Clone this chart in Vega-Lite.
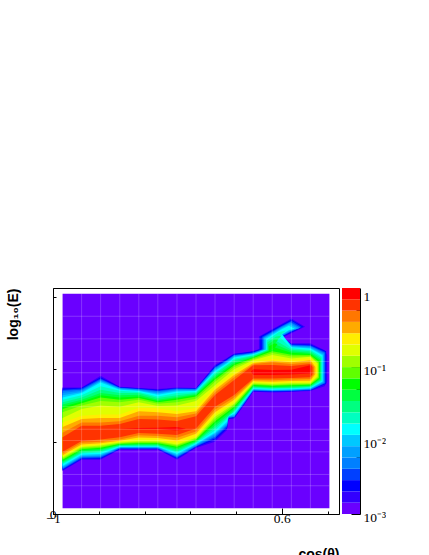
{"$schema":"https://vega.github.io/schema/vega-lite/v6.json","background":"white","padding":{"left":5,"top":287,"right":0,"bottom":0},"spacing":2,"config":{"view":{"stroke":"black","strokeWidth":1},"concat":{"spacing":2}},"datasets":{"contours":[
{"l":0,"x":-0.933,"lo":0.25,"hi":9.75},{"l":0,"x":0.933,"lo":0.25,"hi":9.75},
{"l":1,"x":-0.933,"lo":1.9,"hi":5.6},{"l":1,"x":-0.8,"lo":2.4,"hi":5.6},{"l":1,"x":-0.667,"lo":2.4,"hi":6.12},{"l":1,"x":-0.533,"lo":2.85,"hi":5.63},{"l":1,"x":-0.4,"lo":2.85,"hi":5.58},{"l":1,"x":-0.267,"lo":2.85,"hi":5.53},{"l":1,"x":-0.133,"lo":2.4,"hi":5.6},{"l":1,"x":0,"lo":2.92,"hi":5.58},{"l":1,"x":0.133,"lo":3.2,"hi":6.6},{"l":1,"x":0.217,"lo":3.72,"hi":6.9},{"l":1,"x":0.227,"lo":4.2,"hi":6.95},{"l":1,"x":0.267,"lo":4.22,"hi":7.1},{"l":1,"x":0.335,"lo":4.8,"hi":7.15},{"l":1,"x":0.4,"lo":5.41,"hi":7.21},{"l":1,"x":0.533,"lo":5.38,"hi":7.5},{"l":1,"x":0.595,"lo":5.39,"hi":7.79},{"l":1,"x":0.667,"lo":5.41,"hi":7.55},{"l":1,"x":0.8,"lo":5.44,"hi":7.55},{"l":1,"x":0.9,"lo":5.65,"hi":7.25},{"l":1,"x":0.917,"lo":5.85,"hi":7.04},
{"l":1,"s":1,"x":0.44,"lo":7.2,"hi":7.85},{"l":1,"s":1,"x":0.595,"lo":7.77,"hi":8.4},{"l":1,"s":1,"x":0.667,"lo":8.0,"hi":8.65},{"l":1,"s":1,"x":0.763,"lo":8.29,"hi":8.29},
{"l":2,"x":-0.933,"lo":1.94,"hi":5.55},{"l":2,"x":-0.8,"lo":2.43,"hi":5.58},{"l":2,"x":-0.667,"lo":2.44,"hi":6.05},{"l":2,"x":-0.533,"lo":2.87,"hi":5.62},{"l":2,"x":-0.4,"lo":2.87,"hi":5.56},{"l":2,"x":-0.267,"lo":2.87,"hi":5.5},{"l":2,"x":-0.133,"lo":2.44,"hi":5.58},{"l":2,"x":0,"lo":2.95,"hi":5.56},{"l":2,"x":0.133,"lo":3.28,"hi":6.55},{"l":2,"x":0.217,"lo":3.78,"hi":6.87},{"l":2,"x":0.227,"lo":4.22,"hi":6.92},{"l":2,"x":0.267,"lo":4.25,"hi":7.08},{"l":2,"x":0.335,"lo":4.83,"hi":7.13},{"l":2,"x":0.4,"lo":5.43,"hi":7.19},{"l":2,"x":0.533,"lo":5.4,"hi":7.48},{"l":2,"x":0.6,"lo":5.41,"hi":7.84},{"l":2,"x":0.667,"lo":5.42,"hi":7.52},{"l":2,"x":0.8,"lo":5.46,"hi":7.5},{"l":2,"x":0.91,"lo":5.76,"hi":7.2},
{"l":2,"s":1,"x":0.45,"lo":7.2,"hi":7.85},{"l":2,"s":1,"x":0.6,"lo":7.82,"hi":8.37},{"l":2,"s":1,"x":0.667,"lo":8.03,"hi":8.6},{"l":2,"s":1,"x":0.75,"lo":8.28,"hi":8.28},
{"l":3,"x":-0.933,"lo":1.97,"hi":5.5},{"l":3,"x":-0.8,"lo":2.46,"hi":5.55},{"l":3,"x":-0.667,"lo":2.48,"hi":6.0},{"l":3,"x":-0.533,"lo":2.89,"hi":5.6},{"l":3,"x":-0.4,"lo":2.89,"hi":5.54},{"l":3,"x":-0.267,"lo":2.89,"hi":5.47},{"l":3,"x":-0.133,"lo":2.48,"hi":5.56},{"l":3,"x":0,"lo":2.98,"hi":5.54},{"l":3,"x":0.133,"lo":3.35,"hi":6.5},{"l":3,"x":0.217,"lo":3.84,"hi":6.83},{"l":3,"x":0.227,"lo":4.24,"hi":6.88},{"l":3,"x":0.267,"lo":4.28,"hi":7.05},{"l":3,"x":0.335,"lo":4.86,"hi":7.1},{"l":3,"x":0.4,"lo":5.45,"hi":7.16},{"l":3,"x":0.533,"lo":5.42,"hi":7.45},{"l":3,"x":0.6,"lo":5.43,"hi":7.87},{"l":3,"x":0.667,"lo":5.44,"hi":7.5},{"l":3,"x":0.8,"lo":5.48,"hi":7.47},{"l":3,"x":0.905,"lo":5.78,"hi":7.17},
{"l":3,"s":1,"x":0.46,"lo":7.2,"hi":7.83},{"l":3,"s":1,"x":0.6,"lo":7.85,"hi":8.33},{"l":3,"s":1,"x":0.667,"lo":8.06,"hi":8.55},{"l":3,"s":1,"x":0.74,"lo":8.27,"hi":8.27},
{"l":4,"x":-0.933,"lo":2.0,"hi":5.45},{"l":4,"x":-0.8,"lo":2.5,"hi":5.5},{"l":4,"x":-0.667,"lo":2.52,"hi":5.95},{"l":4,"x":-0.533,"lo":2.91,"hi":5.58},{"l":4,"x":-0.4,"lo":2.91,"hi":5.52},{"l":4,"x":-0.267,"lo":2.91,"hi":5.43},{"l":4,"x":-0.133,"lo":2.52,"hi":5.53},{"l":4,"x":0,"lo":3.0,"hi":5.52},{"l":4,"x":0.133,"lo":3.42,"hi":6.47},{"l":4,"x":0.217,"lo":3.9,"hi":6.8},{"l":4,"x":0.227,"lo":4.26,"hi":6.85},{"l":4,"x":0.267,"lo":4.3,"hi":7.02},{"l":4,"x":0.335,"lo":4.89,"hi":7.07},{"l":4,"x":0.4,"lo":5.47,"hi":7.13},{"l":4,"x":0.533,"lo":5.44,"hi":7.43},{"l":4,"x":0.6,"lo":5.45,"hi":7.89},{"l":4,"x":0.667,"lo":5.46,"hi":7.47},{"l":4,"x":0.8,"lo":5.5,"hi":7.43},{"l":4,"x":0.9,"lo":5.8,"hi":7.13},
{"l":4,"s":1,"x":0.47,"lo":7.2,"hi":7.82},{"l":4,"s":1,"x":0.6,"lo":7.87,"hi":8.3},{"l":4,"s":1,"x":0.66,"lo":8.08,"hi":8.5},{"l":4,"s":1,"x":0.73,"lo":8.25,"hi":8.25},
{"l":5,"x":-0.933,"lo":2.04,"hi":5.35},{"l":5,"x":-0.8,"lo":2.53,"hi":5.45},{"l":5,"x":-0.667,"lo":2.57,"hi":5.9},{"l":5,"x":-0.533,"lo":2.93,"hi":5.56},{"l":5,"x":-0.4,"lo":2.93,"hi":5.5},{"l":5,"x":-0.267,"lo":2.93,"hi":5.38},{"l":5,"x":-0.133,"lo":2.56,"hi":5.5},{"l":5,"x":0,"lo":3.03,"hi":5.5},{"l":5,"x":0.133,"lo":3.5,"hi":6.43},{"l":5,"x":0.217,"lo":3.95,"hi":6.77},{"l":5,"x":0.227,"lo":4.28,"hi":6.82},{"l":5,"x":0.267,"lo":4.33,"hi":7.0},{"l":5,"x":0.335,"lo":4.92,"hi":7.05},{"l":5,"x":0.4,"lo":5.49,"hi":7.11},{"l":5,"x":0.533,"lo":5.46,"hi":7.42},{"l":5,"x":0.6,"lo":5.47,"hi":7.92},{"l":5,"x":0.667,"lo":5.48,"hi":7.45},{"l":5,"x":0.8,"lo":5.52,"hi":7.4},{"l":5,"x":0.895,"lo":5.82,"hi":7.1},
{"l":5,"s":1,"x":0.475,"lo":7.2,"hi":7.8},{"l":5,"s":1,"x":0.6,"lo":7.9,"hi":8.26},{"l":5,"s":1,"x":0.66,"lo":8.1,"hi":8.45},{"l":5,"s":1,"x":0.72,"lo":8.22,"hi":8.22},
{"l":6,"x":-0.933,"lo":2.08,"hi":5.25},{"l":6,"x":-0.8,"lo":2.57,"hi":5.4},{"l":6,"x":-0.667,"lo":2.6,"hi":5.87},{"l":6,"x":-0.533,"lo":2.95,"hi":5.53},{"l":6,"x":-0.4,"lo":2.95,"hi":5.47},{"l":6,"x":-0.267,"lo":2.95,"hi":5.33},{"l":6,"x":-0.133,"lo":2.6,"hi":5.46},{"l":6,"x":0,"lo":3.06,"hi":5.47},{"l":6,"x":0.133,"lo":3.55,"hi":6.38},{"l":6,"x":0.217,"lo":4.0,"hi":6.72},{"l":6,"x":0.227,"lo":4.3,"hi":6.77},{"l":6,"x":0.267,"lo":4.37,"hi":6.97},{"l":6,"x":0.335,"lo":4.95,"hi":7.03},{"l":6,"x":0.4,"lo":5.51,"hi":7.09},{"l":6,"x":0.533,"lo":5.48,"hi":7.4},{"l":6,"x":0.6,"lo":5.49,"hi":7.95},{"l":6,"x":0.667,"lo":5.5,"hi":7.42},{"l":6,"x":0.8,"lo":5.54,"hi":7.36},{"l":6,"x":0.89,"lo":5.84,"hi":7.06},
{"l":6,"s":1,"x":0.48,"lo":7.2,"hi":7.78},{"l":6,"s":1,"x":0.6,"lo":7.93,"hi":8.22},{"l":6,"s":1,"x":0.655,"lo":8.12,"hi":8.4},{"l":6,"s":1,"x":0.705,"lo":8.22,"hi":8.22},
{"l":7,"x":-0.933,"lo":2.12,"hi":5.15},{"l":7,"x":-0.8,"lo":2.62,"hi":5.35},{"l":7,"x":-0.667,"lo":2.65,"hi":5.82},{"l":7,"x":-0.533,"lo":2.97,"hi":5.5},{"l":7,"x":-0.4,"lo":2.98,"hi":5.44},{"l":7,"x":-0.267,"lo":2.98,"hi":5.28},{"l":7,"x":-0.133,"lo":2.65,"hi":5.42},{"l":7,"x":0,"lo":3.1,"hi":5.44},{"l":7,"x":0.133,"lo":3.6,"hi":6.33},{"l":7,"x":0.217,"lo":4.08,"hi":6.67},{"l":7,"x":0.227,"lo":4.33,"hi":6.72},{"l":7,"x":0.267,"lo":4.42,"hi":6.93},{"l":7,"x":0.335,"lo":4.98,"hi":7.0},{"l":7,"x":0.4,"lo":5.53,"hi":7.07},{"l":7,"x":0.533,"lo":5.5,"hi":7.38},{"l":7,"x":0.6,"lo":5.51,"hi":7.97},{"l":7,"x":0.667,"lo":5.52,"hi":7.38},{"l":7,"x":0.8,"lo":5.56,"hi":7.32},{"l":7,"x":0.885,"lo":5.86,"hi":7.02},
{"l":7,"s":1,"x":0.49,"lo":7.2,"hi":7.75},{"l":7,"s":1,"x":0.6,"lo":7.95,"hi":8.18},{"l":7,"s":1,"x":0.65,"lo":8.14,"hi":8.33},{"l":7,"s":1,"x":0.69,"lo":8.2,"hi":8.2},
{"l":8,"x":-0.933,"lo":2.2,"hi":5.05},{"l":8,"x":-0.8,"lo":2.68,"hi":5.25},{"l":8,"x":-0.667,"lo":2.72,"hi":5.65},{"l":8,"x":-0.533,"lo":3.0,"hi":5.45},{"l":8,"x":-0.4,"lo":3.0,"hi":5.4},{"l":8,"x":-0.267,"lo":3.0,"hi":5.2},{"l":8,"x":-0.133,"lo":2.72,"hi":5.35},{"l":8,"x":0,"lo":3.13,"hi":5.4},{"l":8,"x":0.133,"lo":3.7,"hi":6.25},{"l":8,"x":0.217,"lo":4.2,"hi":6.61},{"l":8,"x":0.227,"lo":4.38,"hi":6.66},{"l":8,"x":0.267,"lo":4.5,"hi":6.87},{"l":8,"x":0.335,"lo":5.02,"hi":6.95},{"l":8,"x":0.4,"lo":5.56,"hi":7.03},{"l":8,"x":0.533,"lo":5.53,"hi":7.36},{"l":8,"x":0.58,"lo":5.54,"hi":7.87},{"l":8,"x":0.667,"lo":5.55,"hi":7.33},{"l":8,"x":0.8,"lo":5.6,"hi":7.26},{"l":8,"x":0.88,"lo":5.9,"hi":6.96},
{"l":8,"s":1,"x":0.495,"lo":7.2,"hi":7.68},{"l":8,"s":1,"x":0.58,"lo":7.85,"hi":8.05},{"l":8,"s":1,"x":0.63,"lo":8.12,"hi":8.12},
{"l":9,"x":-0.933,"lo":2.25,"hi":4.95},{"l":9,"x":-0.8,"lo":2.72,"hi":5.15},{"l":9,"x":-0.667,"lo":2.78,"hi":5.5},{"l":9,"x":-0.533,"lo":3.02,"hi":5.35},{"l":9,"x":-0.4,"lo":3.03,"hi":5.35},{"l":9,"x":-0.267,"lo":3.03,"hi":5.13},{"l":9,"x":-0.133,"lo":2.78,"hi":5.25},{"l":9,"x":0,"lo":3.17,"hi":5.35},{"l":9,"x":0.133,"lo":3.8,"hi":6.18},{"l":9,"x":0.267,"lo":4.55,"hi":6.8},{"l":9,"x":0.4,"lo":5.6,"hi":7.0},{"l":9,"x":0.533,"lo":5.56,"hi":7.33},{"l":9,"x":0.56,"lo":5.57,"hi":7.67},{"l":9,"x":0.667,"lo":5.58,"hi":7.27},{"l":9,"x":0.8,"lo":5.63,"hi":7.2},{"l":9,"x":0.875,"lo":5.93,"hi":6.9},
{"l":9,"s":1,"x":0.5,"lo":7.2,"hi":7.6},{"l":9,"s":1,"x":0.56,"lo":7.65,"hi":7.85},{"l":9,"s":1,"x":0.6,"lo":7.9,"hi":7.9},
{"l":10,"x":-0.933,"lo":2.3,"hi":4.85},{"l":10,"x":-0.8,"lo":2.78,"hi":5.05},{"l":10,"x":-0.667,"lo":2.83,"hi":5.35},{"l":10,"x":-0.533,"lo":3.05,"hi":5.25},{"l":10,"x":-0.4,"lo":3.06,"hi":5.28},{"l":10,"x":-0.267,"lo":3.06,"hi":5.05},{"l":10,"x":-0.133,"lo":2.85,"hi":5.18},{"l":10,"x":0,"lo":3.2,"hi":5.3},{"l":10,"x":0.133,"lo":3.9,"hi":6.1},{"l":10,"x":0.267,"lo":4.6,"hi":6.72},{"l":10,"x":0.4,"lo":5.63,"hi":6.96},{"l":10,"x":0.533,"lo":5.6,"hi":7.3},{"l":10,"x":0.55,"lo":5.6,"hi":7.52},{"l":10,"x":0.667,"lo":5.62,"hi":7.2},{"l":10,"x":0.8,"lo":5.66,"hi":7.14},{"l":10,"x":0.87,"lo":5.96,"hi":6.84},
{"l":10,"s":1,"x":0.505,"lo":7.2,"hi":7.5},{"l":10,"s":1,"x":0.55,"lo":7.5,"hi":7.72},{"l":10,"s":1,"x":0.575,"lo":7.72,"hi":7.72},
{"l":11,"x":-0.933,"lo":2.35,"hi":4.75},{"l":11,"x":-0.8,"lo":2.83,"hi":4.98},{"l":11,"x":-0.667,"lo":2.88,"hi":5.25},{"l":11,"x":-0.533,"lo":3.08,"hi":5.15},{"l":11,"x":-0.4,"lo":3.1,"hi":5.2},{"l":11,"x":-0.267,"lo":3.1,"hi":5.0},{"l":11,"x":-0.133,"lo":2.92,"hi":5.12},{"l":11,"x":0,"lo":3.24,"hi":5.25},{"l":11,"x":0.133,"lo":4.0,"hi":6.03},{"l":11,"x":0.267,"lo":4.68,"hi":6.65},{"l":11,"x":0.4,"lo":5.67,"hi":6.93},{"l":11,"x":0.533,"lo":5.63,"hi":7.27},{"l":11,"x":0.55,"lo":5.63,"hi":7.37},{"l":11,"x":0.667,"lo":5.66,"hi":7.13},{"l":11,"x":0.8,"lo":5.69,"hi":7.08},{"l":11,"x":0.865,"lo":5.99,"hi":6.78},
{"l":11,"s":1,"x":0.51,"lo":7.2,"hi":7.42},{"l":11,"s":1,"x":0.55,"lo":7.35,"hi":7.55},{"l":11,"s":1,"x":0.57,"lo":7.52,"hi":7.52},
{"l":12,"x":-0.933,"lo":2.4,"hi":4.65},{"l":12,"x":-0.8,"lo":2.87,"hi":4.9},{"l":12,"x":-0.667,"lo":2.93,"hi":5.15},{"l":12,"x":-0.533,"lo":3.1,"hi":5.05},{"l":12,"x":-0.4,"lo":3.13,"hi":5.13},{"l":12,"x":-0.267,"lo":3.13,"hi":4.95},{"l":12,"x":-0.133,"lo":2.98,"hi":5.05},{"l":12,"x":0,"lo":3.28,"hi":5.2},{"l":12,"x":0.133,"lo":4.1,"hi":5.95},{"l":12,"x":0.267,"lo":4.75,"hi":6.58},{"l":12,"x":0.4,"lo":5.71,"hi":6.9},{"l":12,"x":0.533,"lo":5.67,"hi":7.2},{"l":12,"x":0.667,"lo":5.7,"hi":7.05},{"l":12,"x":0.8,"lo":5.72,"hi":7.03},{"l":12,"x":0.86,"lo":6.02,"hi":6.73},
{"l":13,"x":-0.933,"lo":2.45,"hi":4.5},{"l":13,"x":-0.8,"lo":2.92,"hi":4.8},{"l":13,"x":-0.667,"lo":2.98,"hi":5.0},{"l":13,"x":-0.533,"lo":3.13,"hi":4.95},{"l":13,"x":-0.4,"lo":3.17,"hi":5.05},{"l":13,"x":-0.267,"lo":3.17,"hi":4.88},{"l":13,"x":-0.133,"lo":3.03,"hi":4.95},{"l":13,"x":0,"lo":3.32,"hi":5.1},{"l":13,"x":0.133,"lo":4.2,"hi":5.85},{"l":13,"x":0.267,"lo":4.82,"hi":6.5},{"l":13,"x":0.4,"lo":5.75,"hi":6.85},{"l":13,"x":0.533,"lo":5.7,"hi":7.12},{"l":13,"x":0.667,"lo":5.74,"hi":6.97},{"l":13,"x":0.8,"lo":5.75,"hi":6.98},{"l":13,"x":0.855,"lo":6.05,"hi":6.68},
{"l":14,"x":-0.933,"lo":2.5,"hi":4.25},{"l":14,"x":-0.8,"lo":2.96,"hi":4.65},{"l":14,"x":-0.667,"lo":3.03,"hi":4.8},{"l":14,"x":-0.533,"lo":3.16,"hi":4.75},{"l":14,"x":-0.4,"lo":3.22,"hi":4.95},{"l":14,"x":-0.267,"lo":3.22,"hi":4.78},{"l":14,"x":-0.133,"lo":3.08,"hi":4.8},{"l":14,"x":0,"lo":3.37,"hi":5.0},{"l":14,"x":0.133,"lo":4.3,"hi":5.7},{"l":14,"x":0.267,"lo":4.88,"hi":6.4},{"l":14,"x":0.4,"lo":5.79,"hi":6.8},{"l":14,"x":0.533,"lo":5.75,"hi":7.04},{"l":14,"x":0.667,"lo":5.78,"hi":6.88},{"l":14,"x":0.8,"lo":5.78,"hi":6.96},{"l":14,"x":0.85,"lo":6.08,"hi":6.66},
{"l":15,"x":-0.933,"lo":2.55,"hi":4.05},{"l":15,"x":-0.8,"lo":3.0,"hi":4.35},{"l":15,"x":-0.667,"lo":3.08,"hi":4.4},{"l":15,"x":-0.533,"lo":3.2,"hi":4.4},{"l":15,"x":-0.4,"lo":3.3,"hi":4.7},{"l":15,"x":-0.267,"lo":3.28,"hi":4.68},{"l":15,"x":-0.133,"lo":3.15,"hi":4.55},{"l":15,"x":0,"lo":3.42,"hi":4.7},{"l":15,"x":0.133,"lo":4.4,"hi":5.6},{"l":15,"x":0.267,"lo":4.95,"hi":6.25},{"l":15,"x":0.4,"lo":5.84,"hi":6.72},{"l":15,"x":0.533,"lo":5.8,"hi":6.86},{"l":15,"x":0.667,"lo":5.82,"hi":6.8},{"l":15,"x":0.8,"lo":5.83,"hi":6.88},{"l":15,"x":0.845,"lo":6.13,"hi":6.58},
{"l":16,"x":-0.933,"lo":2.6,"hi":3.85},{"l":16,"x":-0.8,"lo":3.08,"hi":4.2},{"l":16,"x":-0.667,"lo":3.13,"hi":4.25},{"l":16,"x":-0.533,"lo":3.24,"hi":4.25},{"l":16,"x":-0.4,"lo":3.38,"hi":4.55},{"l":16,"x":-0.267,"lo":3.36,"hi":4.5},{"l":16,"x":-0.133,"lo":3.25,"hi":4.42},{"l":16,"x":0,"lo":3.55,"hi":4.55},{"l":16,"x":0.133,"lo":4.5,"hi":5.5},{"l":16,"x":0.267,"lo":5.05,"hi":6.15},{"l":16,"x":0.4,"lo":5.88,"hi":6.68},{"l":16,"x":0.533,"lo":5.85,"hi":6.78},{"l":16,"x":0.667,"lo":5.88,"hi":6.72},{"l":16,"x":0.8,"lo":5.9,"hi":6.8},{"l":16,"x":0.835,"lo":6.2,"hi":6.5},
{"l":17,"x":-0.933,"lo":2.68,"hi":3.6},{"l":17,"x":-0.8,"lo":3.15,"hi":4.05},{"l":17,"x":-0.667,"lo":3.2,"hi":4.05},{"l":17,"x":-0.533,"lo":3.3,"hi":4.1},{"l":17,"x":-0.4,"lo":3.48,"hi":4.35},{"l":17,"x":-0.267,"lo":3.45,"hi":4.35},{"l":17,"x":-0.133,"lo":3.37,"hi":4.28},{"l":17,"x":0,"lo":3.65,"hi":4.45},{"l":17,"x":0.133,"lo":4.62,"hi":5.38},{"l":17,"x":0.267,"lo":5.15,"hi":6.05},{"l":17,"x":0.4,"lo":5.94,"hi":6.63},{"l":17,"x":0.533,"lo":5.92,"hi":6.71},{"l":17,"x":0.667,"lo":5.95,"hi":6.64},{"l":17,"x":0.8,"lo":5.97,"hi":6.72},{"l":17,"x":0.825,"lo":6.2,"hi":6.5},
{"l":18,"x":-0.933,"lo":2.75,"hi":3.4},{"l":18,"x":-0.8,"lo":3.23,"hi":3.9},{"l":18,"x":-0.667,"lo":3.3,"hi":3.9},{"l":18,"x":-0.533,"lo":3.4,"hi":3.98},{"l":18,"x":-0.4,"lo":3.58,"hi":4.2},{"l":18,"x":-0.267,"lo":3.55,"hi":4.18},{"l":18,"x":-0.133,"lo":3.5,"hi":4.12},{"l":18,"x":0,"lo":3.78,"hi":4.33},{"l":18,"x":0.133,"lo":4.75,"hi":5.27},{"l":18,"x":0.267,"lo":5.27,"hi":5.93},{"l":18,"x":0.4,"lo":6.0,"hi":6.58},{"l":18,"x":0.533,"lo":6.0,"hi":6.59},{"l":18,"x":0.667,"lo":6.02,"hi":6.55},{"l":18,"x":0.8,"lo":6.05,"hi":6.64},{"l":18,"x":0.815,"lo":6.2,"hi":6.5},
{"l":19,"x":-0.55,"lo":3.78,"hi":3.78},{"l":19,"x":-0.4,"lo":3.76,"hi":3.8},{"l":19,"x":-0.267,"lo":3.76,"hi":3.82},{"l":19,"x":-0.133,"lo":3.7,"hi":3.85},{"l":19,"x":-0.07,"lo":3.77,"hi":3.77},
{"l":19,"s":1,"x":0.385,"lo":6.3,"hi":6.3},{"l":19,"s":1,"x":0.4,"lo":6.15,"hi":6.41},{"l":19,"s":1,"x":0.533,"lo":6.15,"hi":6.37},{"l":19,"s":1,"x":0.667,"lo":6.17,"hi":6.38},{"l":19,"s":1,"x":0.8,"lo":6.22,"hi":6.58},{"l":19,"s":1,"x":0.805,"lo":6.42,"hi":6.42}
],"bands":[{"l":0,"a":0.001,"b":0.001426},{"l":1,"a":0.001426,"b":0.002032},{"l":2,"a":0.002032,"b":0.002897},{"l":3,"a":0.002897,"b":0.00413},{"l":4,"a":0.00413,"b":0.00589},{"l":5,"a":0.00589,"b":0.0084},{"l":6,"a":0.0084,"b":0.01197},{"l":7,"a":0.01197,"b":0.01706},{"l":8,"a":0.01706,"b":0.02432},{"l":9,"a":0.02432,"b":0.03467},{"l":10,"a":0.03467,"b":0.04943},{"l":11,"a":0.04943,"b":0.07047},{"l":12,"a":0.07047,"b":0.10046},{"l":13,"a":0.10046,"b":0.1432},{"l":14,"a":0.1432,"b":0.2042},{"l":15,"a":0.2042,"b":0.2911},{"l":16,"a":0.2911,"b":0.415},{"l":17,"a":0.415,"b":0.5916},{"l":18,"a":0.5916,"b":0.8433},{"l":19,"a":0.8433,"b":1.2023}]},
"hconcat":[{"width":286,"height":226,"layer":[
{"data":{"name":"contours"},"mark":{"type":"area","stroke":null,"line":false,"interpolate":"linear"},"encoding":{"x":{"field":"x","type":"quantitative","scale":{"domain":[-1,1],"nice":false,"zero":false},"axis":{"title":"cos(θ)","titleFont":"Liberation Sans","titleFontSize":14,"titleFontWeight":"bold","titleColor":"black","titleAnchor":"end","titleY":33,"values":[-1,-0.96,-0.92,-0.88,-0.84,-0.8,-0.76,-0.72,-0.68,-0.64,-0.6,-0.56,-0.52,-0.48,-0.44,-0.4,-0.36,-0.32,-0.28,-0.24,-0.2,-0.16,-0.12,-0.08,-0.04,0,0.04,0.08,0.12,0.16,0.2,0.24,0.28,0.32,0.36,0.4,0.44,0.48,0.52,0.56,0.6,0.64,0.68,0.72,0.76,0.8,0.84,0.88,0.92,0.96,1],"labelExpr":"abs(round(datum.value*5)-datum.value*5)<0.001 ? format(datum.value,'~g') : ''","labelOverlap":false,"labelFlush":false,"labelFont":"Liberation Serif","labelFontSize":13.5,"labelColor":"black","labelPadding":3,"grid":false,"domain":true,"domainColor":"black","tickColor":"black","tickSize":{"condition":{"test":"abs(round(datum.value*5)-datum.value*5)<0.001","value":-6},"value":-3}}},"y":{"field":"lo","type":"quantitative","scale":{"domain":[0,10],"nice":false,"zero":false},"axis":{"title":"log₁₀(E)","titleFont":"Liberation Sans","titleFontSize":14,"titleFontWeight":"bold","titleColor":"black","titleAnchor":"end","titleX":-33,"values":[0,0.2,0.4,0.6,0.8,1,1.2,1.4,1.6,1.8,2,2.2,2.4,2.6,2.8,3,3.2,3.4,3.6,3.8,4,4.2,4.4,4.6,4.8,5,5.2,5.4,5.6,5.8,6,6.2,6.4,6.6,6.8,7,7.2,7.4,7.6,7.8,8,8.2,8.4,8.6,8.8,9,9.2,9.4,9.6,9.8,10],"labelExpr":"abs(round(datum.value)-datum.value)<0.001 ? format(datum.value,'~g') : ''","labelOverlap":false,"labelFlush":false,"labelFont":"Liberation Serif","labelFontSize":13.5,"labelColor":"black","labelPadding":3,"grid":false,"domain":true,"domainColor":"black","tickColor":"black","tickSize":{"condition":{"test":"abs(round(datum.value)-datum.value)<0.001","value":-6},"value":-3}}},"y2":{"field":"hi"},"color":{"field":"l","type":"nominal","legend":null,"scale":{"domain":[0,1,2,3,4,5,6,7,8,9,10,11,12,13,14,15,16,17,18,19],"range":["#6a00ff","#3300ff","#0000ff","#0040ff","#0080ff","#00a0ff","#00c8ff","#00ffff","#00ffc0","#00ff80","#00ff40","#00ff00","#60ff00","#a0ff00","#e0ff00","#ffee00","#ffaa00","#ff7700","#ff3300","#ff0000"]}},"detail":{"field":"s"}}},
{"data":{"values":[{"x":-0.8},{"x":-0.667},{"x":-0.533},{"x":-0.4},{"x":-0.267},{"x":-0.133},{"x":0},{"x":0.133},{"x":0.267},{"x":0.4},{"x":0.533},{"x":0.667},{"x":0.8}]},"mark":{"type":"rule","color":"white","opacity":0.2,"strokeWidth":1},"encoding":{"x":{"field":"x","type":"quantitative"},"y":{"datum":0.25},"y2":{"datum":9.75}}},
{"data":{"values":[{"y":8.75},{"y":7.75},{"y":6.75},{"y":6.25},{"y":4.75},{"y":3.75},{"y":3.25},{"y":2.75},{"y":1.75},{"y":1.25}]},"mark":{"type":"rule","color":"white","opacity":0.2,"strokeWidth":1},"encoding":{"y":{"field":"y","type":"quantitative"},"x":{"datum":-0.933},"x2":{"datum":0.933}}}
]},
{"width":18,"height":226,"view":{"stroke":null},"data":{"name":"bands"},"mark":{"type":"rect"},"encoding":{"y":{"field":"a","type":"quantitative","scale":{"type":"log","domain":[0.001,1.2023],"nice":false},"axis":{"orient":"right","title":null,"values":[0.001,0.002,0.003,0.004,0.005,0.006,0.007,0.008,0.009,0.01,0.02,0.03,0.04,0.05,0.06,0.07,0.08,0.09,0.1,0.2,0.3,0.4,0.5,0.6,0.7,0.8,0.9,1],"labelExpr":"datum.value==1 ? '1' : datum.value==0.1 ? '10⁻¹' : datum.value==0.01 ? '10⁻²' : datum.value==0.001 ? '10⁻³' : ''","labelOverlap":false,"labelFlush":false,"labelFont":"Liberation Serif","labelFontSize":13.5,"labelColor":"black","labelPadding":12,"labelOffset":3,"grid":false,"domain":true,"domainColor":"black","tickColor":"black","tickSize":{"condition":{"test":"datum.value==1||datum.value==0.1||datum.value==0.01||datum.value==0.001","value":-9},"value":-4}}},"y2":{"field":"b"},"color":{"field":"l","type":"nominal","legend":null,"scale":{"domain":[0,1,2,3,4,5,6,7,8,9,10,11,12,13,14,15,16,17,18,19],"range":["#6a00ff","#3300ff","#0000ff","#0040ff","#0080ff","#00a0ff","#00c8ff","#00ffff","#00ffc0","#00ff80","#00ff40","#00ff00","#60ff00","#a0ff00","#e0ff00","#ffee00","#ffaa00","#ff7700","#ff3300","#ff0000"]}}}}
],"resolve":{"scale":{"color":"independent"}}}
